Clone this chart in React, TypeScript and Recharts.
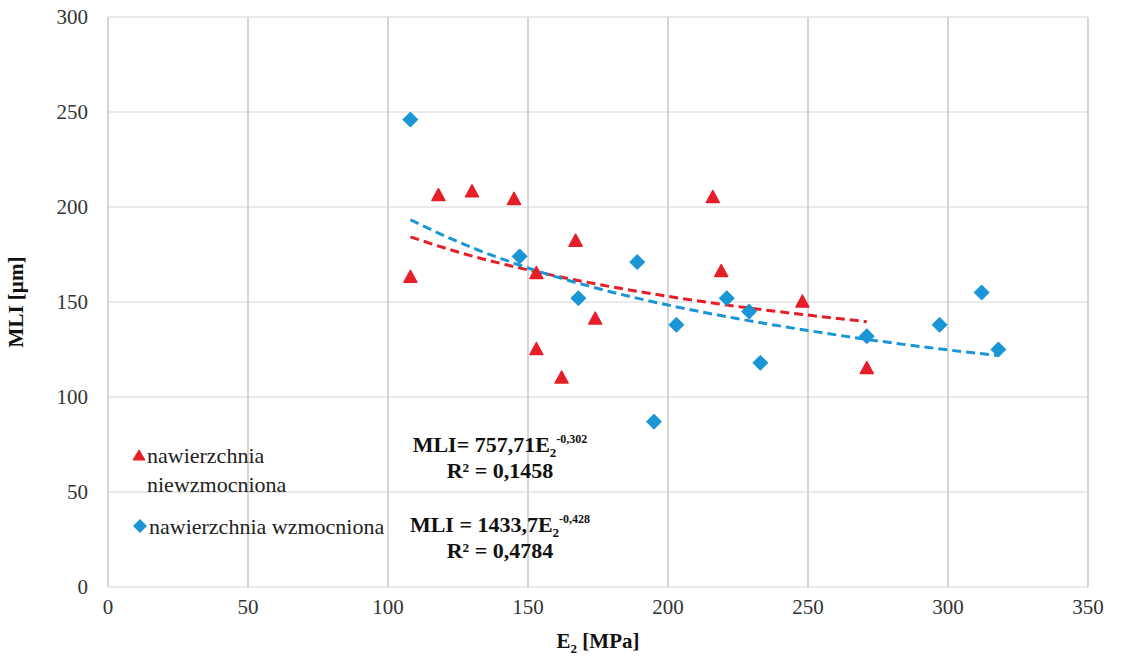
import {
  CartesianGrid,
  ComposedChart,
  Line,
  Scatter,
  XAxis,
  YAxis,
} from "recharts";

// measured points, E2 [MPa] vs MLI [µm]
const unreinforcedE2 = [108, 118, 130, 145, 153, 153, 162, 167, 174, 216, 219, 248, 271];
const unreinforcedMli = [163, 206, 208, 204, 165, 125, 110, 182, 141, 205, 166, 150, 115];

const reinforcedE2 = [108, 147, 168, 189, 195, 203, 221, 229, 233, 271, 297, 312, 318];
const reinforcedMli = [246, 174, 152, 171, 87, 138, 152, 145, 118, 132, 138, 155, 125];

// power trend lines
const trendRedE2 = [108, 125, 150, 175, 200, 225, 250, 271];
const trendRedMli = [184.3, 176.3, 166.9, 159.3, 153.0, 147.6, 143.1, 139.6];
const trendBlueE2 = [108, 125, 150, 175, 200, 225, 250, 275, 300, 318];
const trendBlueMli = [193.3, 181.7, 167.9, 157.1, 148.4, 141.2, 135.0, 129.5, 124.8, 121.8];

const xTicks = [0, 50, 100, 150, 200, 250, 300, 350];
const yTicks = [0, 50, 100, 150, 200, 250, 300];

const seriesNames = ["nawierzchnia niewzmocniona", "nawierzchnia wzmocniona"];

const RED = "#e61e27";
const BLUE = "#1a95d6";
const FONT = "'Times New Roman', 'Liberation Serif', 'DejaVu Serif', serif";

const zip = (xs: number[], ys: number[]) => xs.map((x, i) => ({ x, y: ys[i] }));

const redPoints = zip(unreinforcedE2, unreinforcedMli);
const bluePoints = zip(reinforcedE2, reinforcedMli);
const redTrend = zip(trendRedE2, trendRedMli);
const blueTrend = zip(trendBlueE2, trendBlueMli);

function Triangle(props: any) {
  const { cx, cy } = props;
  if (cx == null || cy == null) return null;
  return (
    <path
      d={`M${cx},${cy - 7} L${cx + 6.5},${cy + 5} L${cx - 6.5},${cy + 5} Z`}
      fill={RED}
      stroke={RED}
      strokeWidth={1.5}
      strokeLinejoin="round"
    />
  );
}

function Diamond(props: any) {
  const { cx, cy } = props;
  if (cx == null || cy == null) return null;
  return (
    <path
      d={`M${cx},${cy - 7.5} L${cx + 7.5},${cy} L${cx},${cy + 7.5} L${cx - 7.5},${cy} Z`}
      fill={BLUE}
      stroke={BLUE}
      strokeWidth={1}
      strokeLinejoin="round"
    />
  );
}

function XTitle(props: any) {
  const vb = props.viewBox;
  const cx = vb.x + vb.width / 2;
  return (
    <text x={cx} y={vb.y + 61} textAnchor="middle" style={{ fontFamily: FONT }} fontWeight="bold" fontSize={21} fill="#111">
      E<tspan fontSize={13} dy={5}>2</tspan>
      <tspan dy={-5}> [MPa]</tspan>
    </text>
  );
}

function YTick(props: any) {
  const { x, y, payload } = props;
  return (
    <text x={x} y={y} dy={7} textAnchor="end" style={{ fontFamily: FONT }} fontSize={21} fill="#333">
      {payload.value}
    </text>
  );
}

function XTick(props: any) {
  const { x, y, payload } = props;
  return (
    <text x={x} y={y} dy={21} textAnchor="middle" style={{ fontFamily: FONT }} fontSize={21} fill="#333">
      {payload.value}
    </text>
  );
}

function Equation({ left, top, coef, exp, r2 }: { left: number; top: number; coef: string; exp: string; r2: string }) {
  return (
    <div
      style={{
        position: "absolute",
        left,
        top,
        width: 220,
        textAlign: "center",
        fontFamily: FONT,
        fontWeight: "bold",
        fontSize: 22,
        lineHeight: "26px",
        color: "#111",
      }}
    >
      <div style={{ height: 26 }}>
        {coef}E
        <span style={{ fontSize: 13, position: "relative", top: 5, lineHeight: 0 }}>2</span>
        <span style={{ fontSize: 12, position: "relative", top: -9, lineHeight: 0 }}>{exp}</span>
      </div>
      <div style={{ height: 26 }}>R² = {r2}</div>
    </div>
  );
}

export default function App() {
  return (
    <div style={{ position: "absolute", left: 0, top: 0, width: 1125, height: 662, background: "#fff" }}>
      <ComposedChart width={1125} height={662} margin={{ top: 17, right: 37, bottom: 0, left: 0 }}>
        <CartesianGrid vertical={false} stroke="#e3e3e3" strokeWidth={1.5} />
        <CartesianGrid horizontal={false} stroke="#c9c9c9" strokeWidth={1.5} />
        <XAxis
          type="number"
          dataKey="x"
          domain={[0, 350]}
          ticks={xTicks}
          axisLine={false}
          tickLine={false}
          tickSize={0}
          tickMargin={6}
          height={75}
          tick={<XTick />}
          label={<XTitle />}
        />
        <YAxis
          type="number"
          dataKey="y"
          domain={[0, 300]}
          ticks={yTicks}
          axisLine={false}
          tickLine={false}
          tickSize={0}
          tickMargin={20}
          width={108}
          tick={<YTick />}
          label={{
            value: "MLI [µm]",
            angle: -90,
            position: "insideLeft",
            offset: 16,
            style: { fontFamily: FONT, fontSize: 21, fontWeight: "bold", fill: "#111", textAnchor: "middle" },
          }}
        />
        <Line
          data={redTrend}
          dataKey="y"
          type="monotone"
          stroke={RED}
          strokeWidth={3}
          strokeDasharray="9 5"
          dot={false}
          activeDot={false}
          legendType="none"
          isAnimationActive={false}
        />
        <Line
          data={blueTrend}
          dataKey="y"
          type="monotone"
          stroke={BLUE}
          strokeWidth={3}
          strokeDasharray="9 5"
          dot={false}
          activeDot={false}
          legendType="none"
          isAnimationActive={false}
        />
        <Scatter name={seriesNames[0]} data={redPoints} shape={<Triangle />} isAnimationActive={false} />
        <Scatter name={seriesNames[1]} data={bluePoints} shape={<Diamond />} isAnimationActive={false} />
      </ComposedChart>

      <div style={{ position: "absolute", left: 131, top: 441, fontFamily: FONT, fontSize: 22, color: "#222", lineHeight: "29px" }}>
        <div style={{ display: "flex" }}>
          <svg width={16} height={29} style={{ flex: "none" }}>
            <path d="M8,9 L14,19 L2,19 Z" fill={RED} stroke={RED} strokeLinejoin="round" />
          </svg>
          <div style={{ width: 160 }}>nawierzchnia niewzmocniona</div>
        </div>
      </div>
      <div style={{ position: "absolute", left: 131, top: 512, fontFamily: FONT, fontSize: 22, color: "#222", lineHeight: "29px" }}>
        <div style={{ display: "flex", whiteSpace: "nowrap" }}>
          <svg width={18} height={29} style={{ flex: "none" }}>
            <path d="M9,7 L16,14 L9,21 L2,14 Z" fill={BLUE} />
          </svg>
          <div>{seriesNames[1]}</div>
        </div>
      </div>

      <Equation left={390} top={432} coef="MLI= 757,71" exp="-0,302" r2="0,1458" />
      <Equation left={390} top={512} coef="MLI = 1433,7" exp="-0,428" r2="0,4784" />
    </div>
  );
}
